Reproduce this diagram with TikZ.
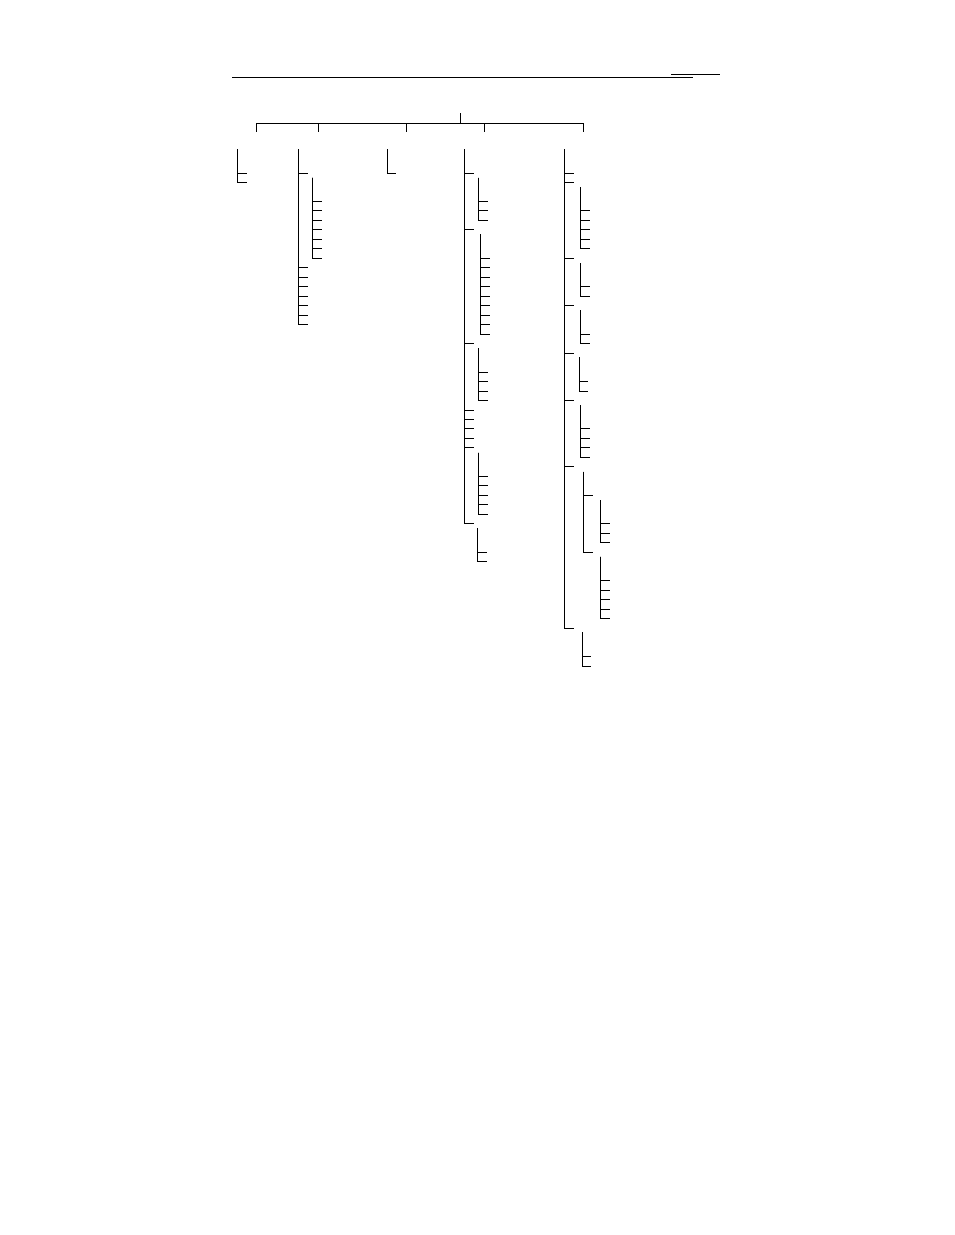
\documentclass[tikz,border=0pt]{standalone}
\begin{document}
\begin{tikzpicture}[x=1pt,y=-1pt,
  treeline/.style={draw=black,line width=1pt},
  rule/.style={draw=black,line width=1pt}]
\useasboundingbox[fill=white] (0,0) rectangle (954,1235);
% header rules
\coordinate (h1a) at (232,77.5); \coordinate (h1b) at (693,77.5);
\coordinate (h2a) at (671,74.5); \coordinate (h2b) at (720,74.5);
\draw[rule] (h1a) -- (h1b);
\draw[rule] (h2a) -- (h2b);
% root
\coordinate (root) at (460.5,113);
\coordinate (bar) at (460.5,123.5);
\draw[treeline] (root) -- (bar);
\foreach \xx [count=\i] in {256.5,318.5,406.5,484.5,583.5}{
  \coordinate (c\i) at (\xx,132);
  \draw[treeline] (bar) -| (c\i);
}
% bracket macro: name, x of vertical, y top, x tick end, list of ys
\newcommand\brk[5]{%
  \pgfmathsetmacro\bx{floor(#2)+0.5}%
  \coordinate (#1) at (\bx,#3);
  \foreach \yy [count=\k] in {#5}{
    \pgfmathsetmacro\yr{floor(\yy)+0.5}%
    \coordinate (#1-\k) at (#4,\yr);
    \draw[treeline] (#1) |- (#1-\k);
  }%
}
% branch A
\brk{A}{237.3}{149}{246.7}{173.3,182.3}
% branch B
\brk{B}{298.3}{149}{308.3}{173.3,267.3,277,286,296,305,315,324.3}
\brk{B1}{312.3}{177.7}{321.7}{201.3,210.3,220.3,229.3,239.3,248.3,258.3}
% branch C
\brk{C}{387.3}{149}{395.7}{173.3}
% branch D
\brk{D}{464.3}{149}{474.3}{173.3,229.3,343.3,410.3,419.3,428.3,438.3,447.3,523}
\brk{D1}{478.3}{177.7}{487.7}{201.3,210.3,220.3}
\brk{D2}{480.3}{234.3}{489.7}{258,267.3,277,286,296,305,315,324,334}
\brk{D3}{478.3}{348.3}{487.7}{372.3,381.3,391.3,400.3}
\brk{D4}{478.3}{452.7}{487.7}{476,485.3,495,504,514}
\brk{D5}{477.3}{528.3}{486.7}{552,561}
% branch E
\brk{E}{564.3}{149}{574}{173.3,182.3,258,305,353.3,400.3,466.3,628.3}
\brk{E1}{580.3}{187.3}{590}{210.3,220.3,229.3,239.3,248.3}
\brk{E2}{580.3}{263.3}{590}{286,296}
\brk{E3}{580.3}{310}{590}{334.3,343.3}
\brk{E4}{579.3}{357.3}{588.3}{381.7,391}
\brk{E5}{580.3}{405.3}{590}{428.3,438.3,447.3,457.3}
\brk{E6}{583.3}{471.5}{592.7}{495,552}
\brk{E6a}{600.3}{500}{610}{523,533,542.3}
\brk{E6b}{600.3}{556.7}{610}{580,590,599,609,618.3}
\brk{E7}{582.3}{632.3}{591.3}{656.3,666.3}
\end{tikzpicture}
\end{document}
